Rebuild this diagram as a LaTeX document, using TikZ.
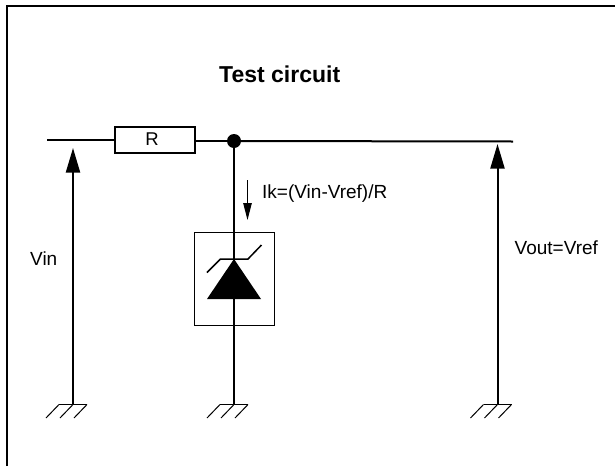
\documentclass[tikz,border=0pt]{standalone}
\usepackage{fontspec}
\setmainfont{Liberation Sans}
\usetikzlibrary{arrows.meta}
\tikzset{
  x=1pt,y=-1pt,
  wire/.style={line width=2pt,line cap=butt},
  arrowline/.style={line width=2pt,-{Triangle[length=24.5pt,width=14pt]}},
  thin wire/.style={line width=1pt},
  label/.style={font=\fontsize{19}{21}\selectfont,inner sep=0pt,anchor=base west},
  boxed/.style={draw,line width=2pt,fill=white,inner sep=0pt,minimum width=80pt,minimum height=26pt},
}
\begin{document}
\begin{tikzpicture}
\useasboundingbox (0,0) rectangle (615,466);
\fill[white] (0,0) rectangle (615,466);
% frame
\draw[line width=2pt] (7,466) -- (7,6) -- (615,6);
% title
\node[label,font=\fontsize{23}{26}\selectfont\bfseries] (title) at (219,82.5) {Test circuit};
% wires
\coordinate (inL) at (47,140);
\coordinate (inR) at (513,141.5);
\node[circle,fill=black,inner sep=0pt,minimum size=14pt] (dot) at (234,141) {};
\node[boxed] (R) at (154.5,139.5) {};
\node[font=\fontsize{18.5}{20}\selectfont,inner sep=0pt] (Rt) at (152,139.5) {R};
\draw[wire] (inL) -- (R.west |- inL);
\draw[wire] (R.east |- dot) -- (dot);
\draw[wire] (dot) -- (inR);
% grounds
\newcommand{\gnd}[1]{%
  \draw[thin wire] ([shift={(-14,0)}]#1) -- ([shift={(14,0)}]#1);
  \foreach \d in {-14,0,14}
    \draw[thin wire] ([shift={(\d,0)}]#1) -- ([shift={(\d-13,13.5)}]#1);
}
\coordinate (g1) at (73,404.5);
\coordinate (g2) at (234,404.5);
\coordinate (g3) at (497.5,404.5);
\coordinate (a1) at (73,148);
\coordinate (a3) at (497.5,144);
\draw[arrowline] (g1) -- (a1);
\draw[arrowline] (g3) -- (a3);
\gnd{g1}\gnd{g2}\gnd{g3}
% diode box
\node[draw,line width=1pt,minimum width=80pt,minimum height=92.5pt,inner sep=0pt] (box) at (234,279) {};
\draw[wire] (dot.south -| g2) -- (g2);
\coordinate (tipD) at (234,259);
\fill (tipD) -- (261,299) -- (207,299) -- cycle;
\draw[line width=1.5pt] (207,272.5) -- (220.5,259) -- (248,259) -- (261.5,245);
% current arrow
\coordinate (i1) at (247.5,180);
\coordinate (i2) at (247.5,220);
\draw[line width=1pt,-{Triangle[length=17pt,width=8.5pt]}] (i1) -- (i2);
% labels
\node[label] (ik) at (262,198) {Ik=(Vin-Vref)/R};
\node[label] (vin) at (30,265) {Vin};
\node[label] (vout) at (514.5,254) {Vout=Vref};
\end{tikzpicture}
\end{document}
